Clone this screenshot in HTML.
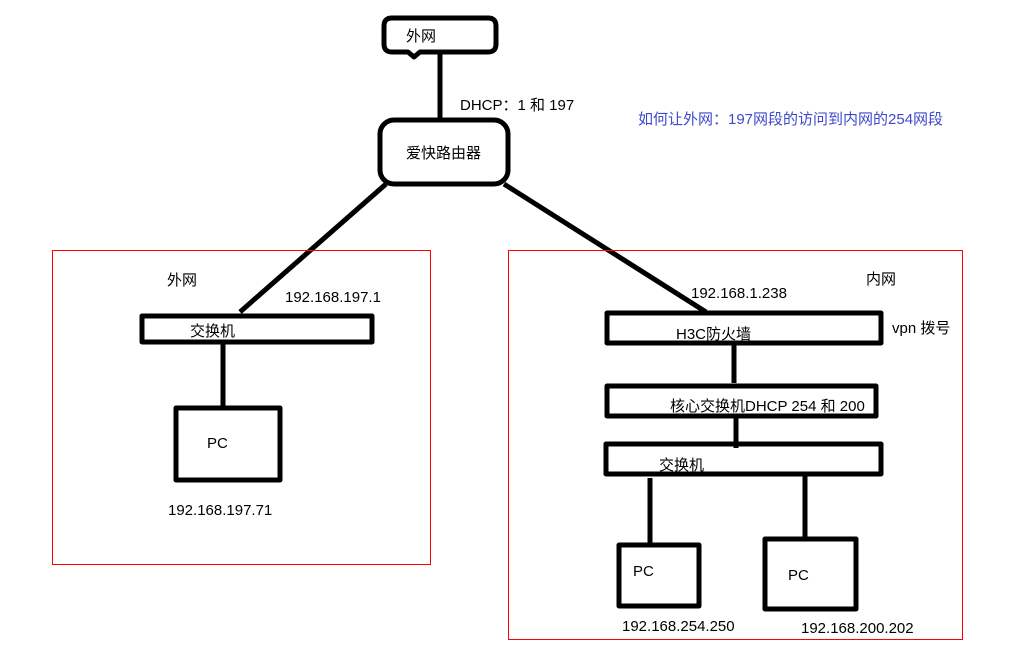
<!DOCTYPE html>
<html><head><meta charset="utf-8"><style>
html,body{margin:0;padding:0;background:#fff;}
svg{display:block;}
text{font-family:"Liberation Sans","Noto Sans CJK SC",sans-serif;font-size:15px;fill:#000;}
</style></head><body>
<svg width="1027" height="658" viewBox="0 0 1027 658" xmlns="http://www.w3.org/2000/svg">
<g fill="none" stroke="#000" stroke-width="5" stroke-linejoin="round">
<path d="M392,18 H488 Q496,18 496,26 V44 Q496,52 488,52 H420 L414,57 L408,52 H392 Q384,52 384,44 V26 Q384,18 392,18 Z"/>
<line x1="440" y1="54" x2="440" y2="120"/>
<rect x="380" y="120" width="128" height="64" rx="14"/>
<line x1="386" y1="184" x2="240" y2="312"/>
<line x1="504" y1="184" x2="706" y2="312"/>
<rect x="142" y="316" width="230" height="26"/>
<line x1="223" y1="344" x2="223" y2="406"/>
<rect x="176" y="408" width="104" height="72"/>
<rect x="607" y="313" width="274" height="30"/>
<line x1="734" y1="345" x2="734" y2="383"/>
<rect x="607" y="386" width="269" height="30"/>
<line x1="736" y1="418" x2="736" y2="448"/>
<rect x="606" y="444" width="275" height="30"/>
<line x1="650" y1="478" x2="650" y2="543"/>
<line x1="805" y1="476" x2="805" y2="537"/>
<rect x="619" y="545" width="80" height="61"/>
<rect x="765" y="539" width="91" height="70"/>
</g>
<g fill="none" stroke="#f00" stroke-width="1">
<rect x="52.5" y="250.5" width="378" height="314"/>
<rect x="508.5" y="250.5" width="454" height="389"/>
</g>
<text x="406" y="41">外网</text>
<text x="460" y="110">DHCP：1 和 197</text>
<text x="406" y="158">爱快路由器</text>
<text x="638" y="124" style="fill:#3f48cc">如何让外网：197网段的访问到内网的254网段</text>
<text x="167" y="285">外网</text>
<text x="285" y="302">192.168.197.1</text>
<text x="190" y="336">交换机</text>
<text x="207" y="448">PC</text>
<text x="168" y="515">192.168.197.71</text>
<text x="866" y="284">内网</text>
<text x="691" y="298">192.168.1.238</text>
<text x="676" y="339">H3C防火墙</text>
<text x="892" y="333">vpn 拨号</text>
<text x="670" y="411">核心交换机DHCP 254  和 200</text>
<text x="659" y="470">交换机</text>
<text x="633" y="576">PC</text>
<text x="788" y="580">PC</text>
<text x="622" y="631">192.168.254.250</text>
<text x="801" y="633">192.168.200.202</text>
</svg>
</body></html>
